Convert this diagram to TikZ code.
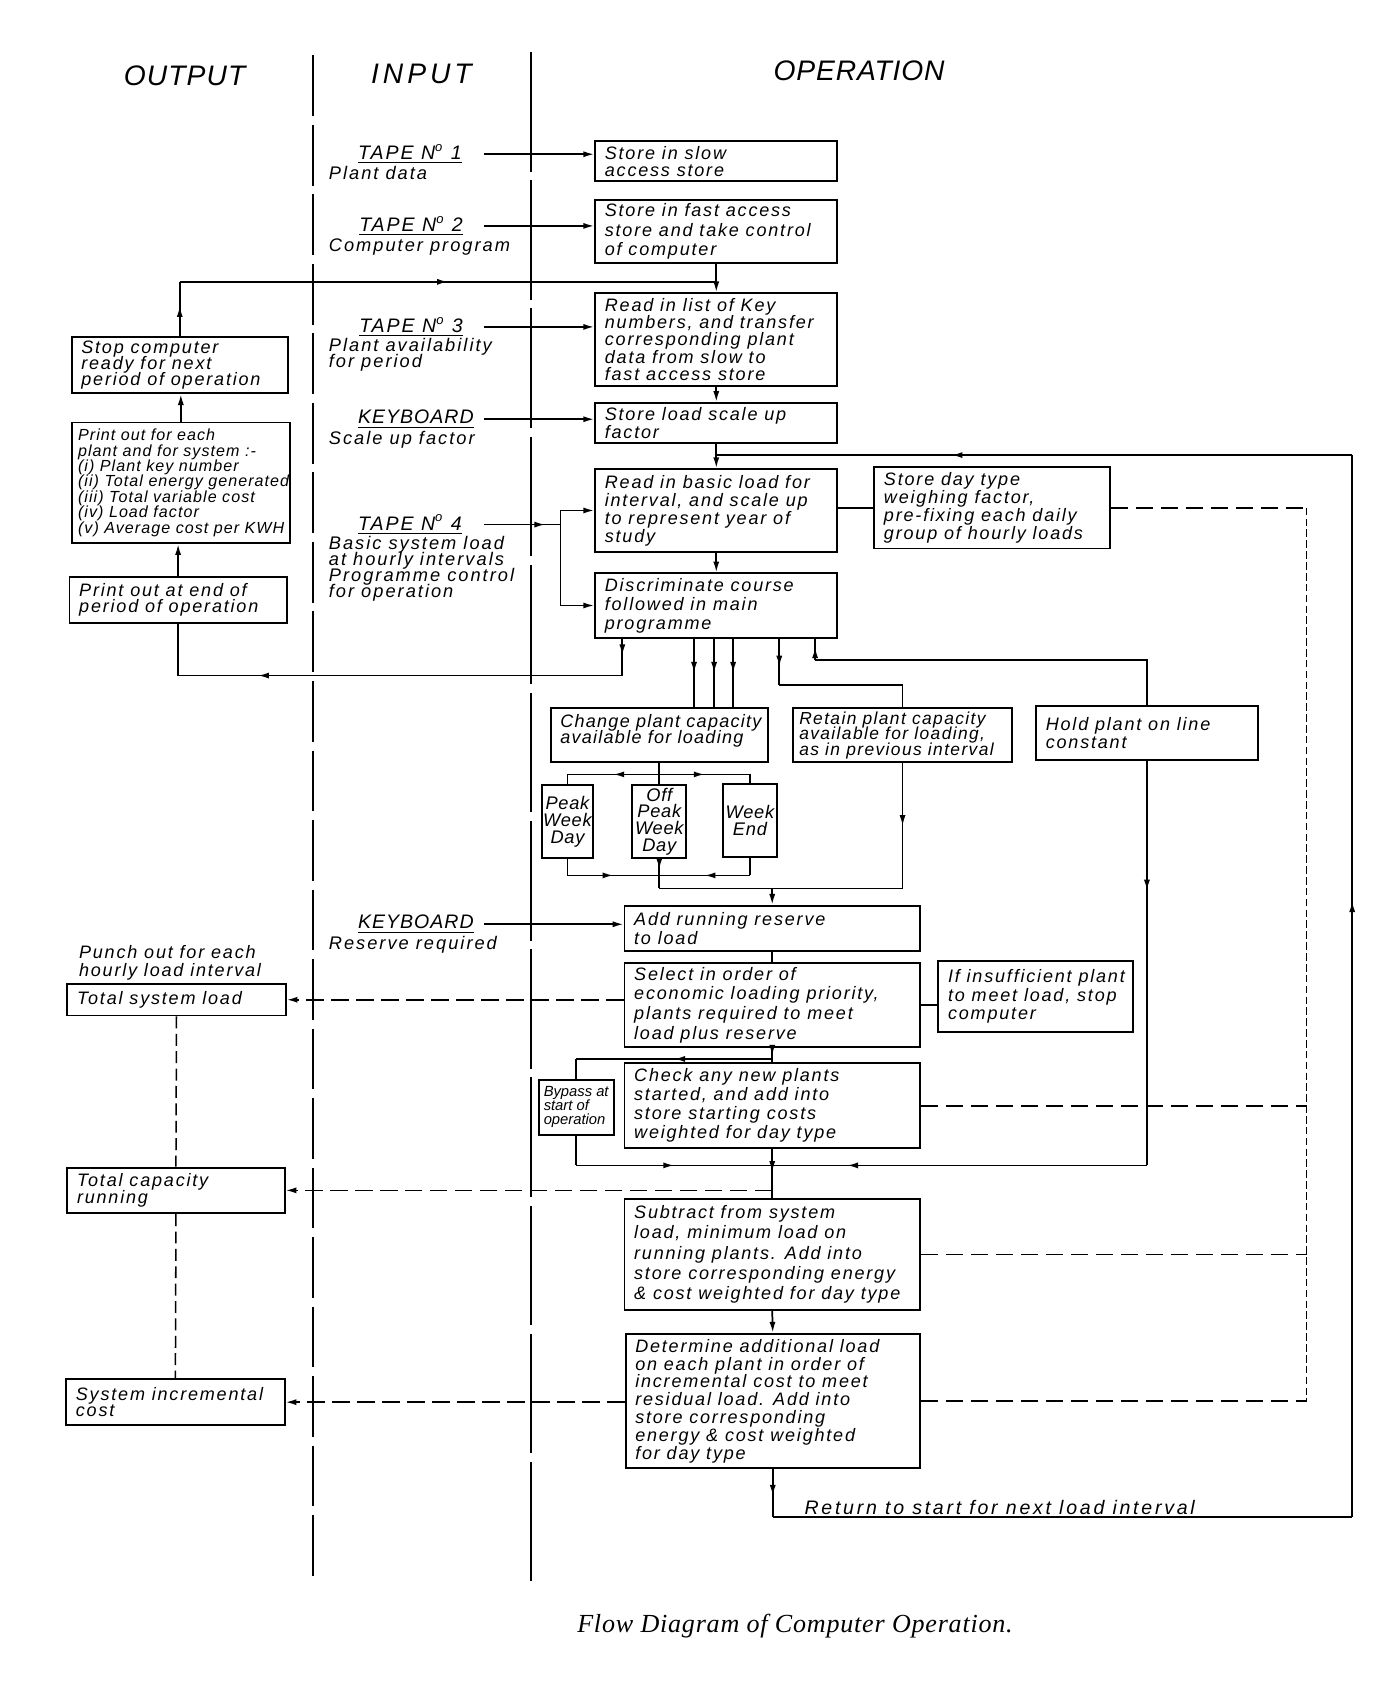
\documentclass[tikz,border=0pt]{standalone}
\usepackage{fontspec}
\setmainfont{Liberation Sans}
\newfontfamily\capfont{Liberation Serif}
\usetikzlibrary{arrows.meta,decorations.markings}

% fixed line spacing regardless of ascenders and descenders
\newcommand\fixlines{\lineskiplimit=-20pt\lineskip=0pt}
\newcommand\boxfont{\itshape\addfontfeature{LetterSpace=10}\fontsize{8.3}{7.9}\selectfont\fixlines}
\newcommand\chgfont{\itshape\addfontfeature{LetterSpace=7}\fontsize{8.3}{7.7}\selectfont\fixlines}
\newcommand\tightfont{\itshape\addfontfeature{LetterSpace=8}\fontsize{8}{7.2}\selectfont\fixlines}
\newcommand\listfont{\itshape\addfontfeature{LetterSpace=6.5}\fontsize{7.4}{7.1}\selectfont\fixlines}
\newcommand\dayfont{\itshape\addfontfeature{LetterSpace=4}\fontsize{8.4}{7.7}\selectfont\fixlines}
\newcommand\bypfont{\itshape\fontsize{6.8}{6.4}\selectfont\fixlines}
\newcommand\subfont{\itshape\addfontfeature{LetterSpace=11}\fontsize{8.4}{7.3}\selectfont\fixlines}
\newcommand\ttlfont{\itshape\addfontfeature{LetterSpace=10}\fontsize{9}{9}\selectfont}
\newcommand\keyfont{\itshape\addfontfeature{LetterSpace=5}\fontsize{9}{9}\selectfont}
\newcommand\retfont{\itshape\addfontfeature{LetterSpace=14}\fontsize{9}{9}\selectfont}
\newcommand\headfont{\itshape\fontsize{13}{13}\selectfont}
\newcommand\captfont{\capfont\itshape\addfontfeature{LetterSpace=3}\fontsize{12}{12}\selectfont}

% box from (x1,y1) to (x2,y2), text set flush left inside
\newcommand\opnode[7][]{%
  \pgfmathsetmacro\obw{(#5-#3)/2}%
  \pgfmathsetmacro\obh{(#6-#4)/2}%
  \node[obox,minimum width=\obw pt,minimum height=\obh pt] (#2) at ({(#3+#5)/2},{(#4+#6)/2}) {};%
  \node[otext,#1] (#2-t) at ([xshift=4.5pt]#2.west) {#7};}
% box from (x1,y1) to (x2,y2), text centred
\newcommand\cenode[7][]{%
  \pgfmathsetmacro\obw{(#5-#3)/2}%
  \pgfmathsetmacro\obh{(#6-#4)/2}%
  \node[obox,minimum width=\obw pt,minimum height=\obh pt] (#2) at ({(#3+#5)/2},{(#4+#6)/2}) {};%
  \node[otext,anchor=center,align=center,#1] (#2-t) at (#2.center) {#7};}

\begin{document}
\begin{tikzpicture}[x=0.5pt,y=-0.5pt,
  >={Latex[length=5pt,width=2.8pt]},
  line width=0.8pt,
  obox/.style={draw,line width=0.9pt,inner sep=0pt},
  otext/.style={inner sep=0pt,anchor=west,align=left,font=\boxfont},
  ls/.style={font=\boxfont\fontsize{8.3}{#1}\selectfont},
  head/.style={inner sep=0pt,font=\headfont},
  ttl/.style={inner sep=0pt,anchor=west,font=\ttlfont},
  sub/.style={inner sep=0pt,anchor=north west,align=left,font=\subfont},
  divA/.style={dash pattern=on 28pt off 4pt,line width=0.8pt},
  divB/.style={dash pattern=on 55pt off 4pt,line width=0.9pt},
  hdash/.style={dash pattern=on 8pt off 3.5pt},
  vdash/.style={dash pattern=on 3.5pt off 1.5pt},
  odash/.style={dash pattern=on 5.5pt off 2.5pt,line width=0.7pt},
  midarr/.style={postaction={decorate,decoration={markings,mark=at position #1 with {\arrow{>}}}}},
  midarr/.default=0.5]

\useasboundingbox (0,0) rectangle (1282,1568);

% column dividers and headings
\draw[divA] (288,51) -- (288,1457);
\draw[divB] (489,48) -- (489,1457);
\node[head,font=\headfont\addfontfeature{LetterSpace=4}] (hout) at (170,70) {OUTPUT};
\node[head,font=\headfont\addfontfeature{LetterSpace=14}] (hin) at (388,68) {INPUT};
\node[head,font=\headfont\addfontfeature{LetterSpace=3}] (hop) at (791,65) {OPERATION};

% operation column
\opnode[ls=8]{b1}{548}{130}{771}{167}{Store in slow\\access store}
\opnode[ls=9]{b2}{548}{184}{771}{242}{Store in fast access\\store and take control\\of computer}
\opnode[ls=7.9]{b3}{548}{270}{771}{355}{Read in list of Key\\numbers, and transfer\\corresponding plant\\data from slow to\\fast access store}
\opnode[ls=8]{b4}{548}{371}{771}{408}{Store load scale up\\factor}
\opnode[ls=8.3]{b5}{548}{432}{771}{508}{Read in basic load for\\interval, and scale up\\to represent year of\\study}
\opnode[ls=8.3]{b6}{805}{430}{1022}{505}{Store day type\\weighing factor,\\pre-fixing each daily\\group of hourly loads}
\opnode[ls=8.7]{b7}{548}{528}{771}{587}{Discriminate course\\followed in main\\programme}
\opnode[font=\chgfont,yshift=2pt]{b8}{507}{652}{707}{702}{Change plant capacity\\available for loading}
\opnode[font=\tightfont,xshift=-1.5pt]{b9}{730}{652}{932}{702}{Retain plant capacity\\available for loading,\\as in previous interval}
\opnode{b10}{954}{650}{1158}{700}{Hold plant on line\\constant}
\cenode[font=\dayfont]{p1}{499}{723}{546}{790}{Peak\\Week\\Day}
\cenode[font=\dayfont]{p2}{582}{723}{632}{790}{Off\\Peak\\Week\\Day}
\cenode[font=\dayfont]{p3}{666}{722}{715}{789}{Week\\End}
\opnode[ls=8.5]{b11}{575}{834}{847}{876}{Add running reserve\\to load}
\opnode[ls=9.1]{b12}{575}{887}{847}{964}{Select in order of\\economic loading priority,\\plants required to meet\\load plus reserve}
\opnode[ls=8.5]{b13}{864}{885}{1043}{950}{If insufficient plant\\to meet load, stop\\computer}
\cenode[font=\bypfont,align=left]{by}{496}{994}{565}{1045}{Bypass at\\start of\\operation}
\opnode[ls=8.8]{b14}{575}{979}{847}{1057}{Check any new plants\\started, and add into\\store starting costs\\weighted for day type}
\opnode[ls=9.3]{b15}{575}{1104}{847}{1206}{Subtract from system\\load, minimum load on\\running plants. Add into\\store corresponding energy\\\& cost weighted for day type}
\opnode[ls=8.2]{b16}{576}{1228}{847}{1352}{Determine additional load\\on each plant in order of\\incremental cost to meet\\residual load. Add into\\store corresponding\\energy \& cost weighted\\for day type}

% output column
\opnode[ls=7.4]{o1}{66}{310}{265}{362}{Stop computer\\ready for next\\period of operation}
\opnode[font=\listfont,xshift=-1.5pt]{o2}{66}{389}{267}{500}{Print out for each\\plant and for system :-\\(i) Plant key number\\(ii) Total energy generated\\(iii) Total variable cost\\(iv) Load factor\\(v) Average cost per KWH}
\opnode[ls=7.2]{o3}{64}{531}{264}{574}{Print out at end of\\period of operation}
\node[otext,ls=8,anchor=north west] (punch) at (72,870) {Punch out for each\\hourly load interval};
\opnode{o4}{62}{906}{263}{935}{Total system load}
\opnode[ls=7.5]{o5}{62}{1075}{262}{1117}{Total capacity\\running}
\opnode[ls=7.5]{o6}{61}{1270}{262}{1312}{System incremental\\cost}

% input column
\node[ttl] (t1) at (329,142) {\underline{TAPE N\textsuperscript{o} 1}};
\node[sub] (s1) at (302,152) {Plant data};
\node[ttl] (t2) at (330,208) {\underline{TAPE N\textsuperscript{o} 2}};
\node[sub] (s2) at (302,219) {Computer program};
\node[ttl] (t3) at (330,301) {\underline{TAPE N\textsuperscript{o} 3}};
\node[sub] (s3) at (302,311) {Plant availability\\for period};
\node[ttl,font=\keyfont] (k1) at (329,386) {\underline{KEYBOARD}};
\node[sub] (sk1) at (302,396) {Scale up factor};
\node[ttl] (t4) at (329,483) {\underline{TAPE N\textsuperscript{o} 4}};
\node[sub] (s4) at (302,493) {Basic system load\\at hourly intervals\\Programme control\\for operation};
\node[ttl,font=\keyfont] (k2) at (329,851) {\underline{KEYBOARD}};
\node[sub] (sk2) at (302,861) {Reserve required};

% inputs into operations
\draw[->] (t1.east -| 446,0) -- (t1.east -| b1.west);
\draw[->] (t2.east -| 446,0) -- (t2.east -| b2.west);
\draw[->] (t3.east -| 446,0) -- (t3.east -| b3.west);
\draw[->] (k1.east -| 446,0) -- (k1.east -| b4.west);
\coordinate (j4) at (516,480);
\draw[midarr=0.8] (t4.east -| 446,0) -- (t4.east -| j4);
\draw (j4 |- b5.west) -- (j4 |- b7.west);
\draw[->] (j4 |- b5.west) -- (b5.west);
\draw[->] (j4 |- b7.west) -- (b7.west);
\draw[->] (k2.east -| 446,0) -- (k2.east -| b11.west);

% main chain
\draw[->] (b2.south) -- (b3.north);
\draw[->] (b3.south) -- (b4.north);
\draw[->] (b4.south) -- (b5.north);
\draw (b6.west -| b5.east) -- (b6.west);
\draw[->] (b5.south) -- (b7.north);

% end of period loop
\coordinate (lt) at (b3.north |- 0,259.5);
\draw[midarr=0.55] (o1.north) -- (o1.north |- lt);
\draw[midarr=0.5] (o1.north |- lt) -- (lt);
\draw[->] (o2.north) -- (o2.north |- o1.south);
\draw[->] (o3.north) -- (o3.north |- o2.south);

% courses out of the discriminator
\coordinate (lb) at (573,622);
\draw[midarr=0.45] (b7.south -| lb) -- (lb);
\draw[midarr=0.82] (lb) -- (lb -| o3.south);
\draw (lb -| o3.south) -- (o3.south);
\foreach \xx in {639,657.5,675} \draw[midarr=0.5] (b7.south -| \xx,0) -- (b8.north -| \xx,0);
\coordinate (rj) at (717.5,631);
\draw[midarr=0.6] (b7.south -| rj) -- (rj);
\draw (rj) -- (rj -| b9.north) -- (b9.north);
\coordinate (hj) at (750.5,608);
\draw[midarr=0.6] (hj) -- (b7.south -| hj);
\draw (hj) -- (hj -| b10.north) -- (b10.north);

% day types
\coordinate (pj) at (b8.south |- 0,713);
\draw (b8.south) -- (p2.north);
\draw[midarr=0.5] (pj) -- (pj -| p1.north);
\draw (pj -| p1.north) -- (p1.north);
\draw[midarr=0.5] (pj) -- (pj -| p3.north);
\draw (pj -| p3.north) -- (p3.north);
\coordinate (pb) at (p2.south |- 0,806);
\draw (p1.south) -- (p1.south |- pb);
\draw[midarr=0.5] (p1.south |- pb) -- (pb);
\draw (p3.south) -- (p3.south |- pb);
\draw[midarr=0.5] (p3.south |- pb) -- (pb);
\coordinate (pc) at (p2.south |- 0,818);
\draw[midarr=0.35] (p2.south) -- (pc);
\draw (pc) -- (pc -| b9.south);
\draw[midarr=0.5] (b9.south) -- (b9.south |- pc);
\draw[->] (pc -| b11.north) -- (b11.north);

% reserve, selection and start-up
\draw (b11.south) -- (b12.north);
\draw (b12.east) -- (b12.east -| b13.west);
\draw[hdash,->] (o4.east -| b12.west) -- (o4.east);
\coordinate (bj) at (b12.south |- 0,975);
\draw[midarr=0.7] (b12.south) -- (bj);
\draw (bj) -- (b14.north);
\draw[midarr=0.5] (bj) -- (bj -| by.north);
\draw (bj -| by.north) -- (by.north);
\coordinate (bb) at (b14.south |- 0,1073);
\draw (by.south) -- (by.south |- bb);
\draw[midarr=0.5] (by.south |- bb) -- (bb);
\draw (b14.south) -- (bb);
\draw[midarr=0.32] (b10.south) -- (b10.south |- bb);
\draw[midarr=0.8] (b10.south |- bb) -- (bb);
\draw[midarr=0.2] (bb) -- (b15.north);
\draw[hdash,->] (o5.east -| b15.north) -- (o5.east);
\draw[->] (b15.south) -- (b16.north);
\draw[hdash,->] (o6.east -| b16.west) -- (o6.east);

% weighting factor feed (dashed)
\coordinate (dr) at (1203,0);
\draw[hdash] (b6.east) -- (b6.east -| dr);
\draw[vdash] (b6.east -| dr) -- (b16.east -| dr);
\draw[hdash] (b14.east) -- (b14.east -| dr);
\draw[hdash] (b15.east) -- (b15.east -| dr);
\draw[hdash] (b16.east) -- (b16.east -| dr);

% output chain (dashed)
\draw[odash] (o4.south) -- (o5.north);
\draw[odash] (o5.south) -- (o6.north);

% return to start
\coordinate (rb) at (1245,1397);
\coordinate (rt) at (b5.north |- 0,419);
\draw[midarr=0.55] (b16.south) -- (b16.south |- rb);
\draw (b16.south |- rb) -- (rb);
\draw[midarr=0.58] (rb) -- (rb |- rt);
\draw[midarr=0.63] (rb |- rt) -- (rt);
\node[otext,font=\retfont] (ret) at (740,1388) {Return to start for next load interval};

\node[font=\captfont] (cap) at (732,1497) {Flow Diagram of Computer Operation.};
\end{tikzpicture}
\end{document}
